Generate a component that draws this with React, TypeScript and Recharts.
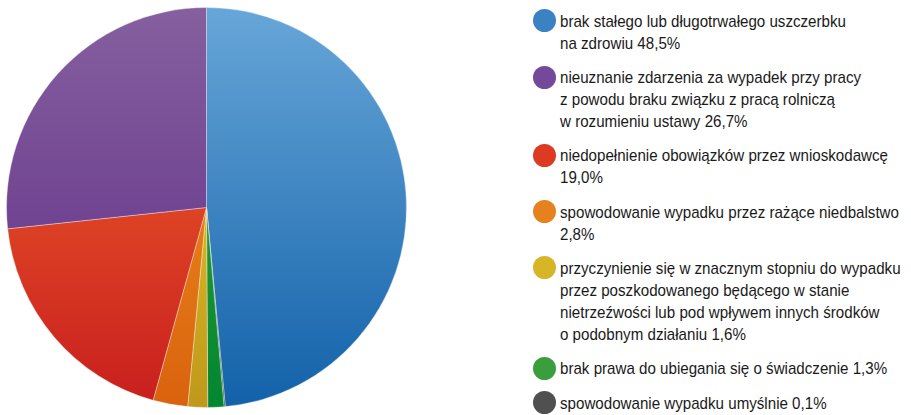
import { PieChart, Pie, Cell, Legend } from "recharts"

// pie order: clockwise from 12 o'clock
const sliceNames = [
  "brak stałego lub długotrwałego uszczerbku na zdrowiu",
  "spowodowanie wypadku umyślnie",
  "brak prawa do ubiegania się o świadczenie",
  "przyczynienie się w znacznym stopniu do wypadku przez poszkodowanego będącego w stanie nietrzeźwości lub pod wpływem innych środków o podobnym działaniu",
  "spowodowanie wypadku przez rażące niedbalstwo",
  "niedopełnienie obowiązków przez wnioskodawcę",
  "nieuznanie zdarzenia za wypadek przy pracy z powodu braku związku z pracą rolniczą w rozumieniu ustawy",
]
const sliceValues = [48.5, 0.1, 1.3, 1.6, 2.8, 19.0, 26.7]
const sliceTop = ["#67a6d8", "#555555", "#45a83a", "#f0d431", "#f09a22", "#f2682c", "#855f9f"]
const sliceBottom = ["#1261a9", "#3a3a3a", "#018630", "#bf981a", "#da620e", "#c81e1e", "#5f2c85"]

// legend, wrapped as in the original
const legendLines = [
  ["brak stałego lub długotrwałego uszczerbku", "na zdrowiu 48,5%"],
  ["nieuznanie zdarzenia za wypadek przy pracy", "z powodu braku związku z pracą rolniczą", "w rozumieniu ustawy 26,7%"],
  ["niedopełnienie obowiązków przez wnioskodawcę", "19,0%"],
  ["spowodowanie wypadku przez rażące niedbalstwo", "2,8%"],
  ["przyczynienie się w znacznym stopniu do wypadku", "przez poszkodowanego będącego w stanie", "nietrzeźwości lub pod wpływem innych środków", "o podobnym działaniu 1,6%"],
  ["brak prawa do ubiegania się o świadczenie 1,3%"],
  ["spowodowanie wypadku umyślnie 0,1%"],
]
const legendColors = ["#3a82c4", "#74489a", "#dc3a22", "#e6821e", "#d6b626", "#3a9e3c", "#505050"]

const data = sliceNames.map((name, i) => ({ name, value: sliceValues[i] }))

const font = "'Liberation Sans', Arial, sans-serif"
const squeeze = 0.89

function LegendBox() {
  return (
    <div style={{ fontFamily: font, fontSize: 17, color: "#1a1a1a", lineHeight: "22px" }}>
      {legendLines.map((lines, i) => (
        <div key={i} style={{ position: "relative", paddingLeft: 27, marginBottom: 12.3 }}>
          <span
            style={{
              position: "absolute",
              left: 0,
              top: -1.5,
              width: 23,
              height: 23,
              borderRadius: "50%",
              background: legendColors[i],
            }}
          />
          {lines.map((l, j) => (
            <div key={j} style={{ whiteSpace: "nowrap", height: 22 }}>
              <span style={{ display: "inline-block", transform: `scaleX(${squeeze})`, transformOrigin: "0 0" }}>{l}</span>
            </div>
          ))}
        </div>
      ))}
    </div>
  )
}

export default function App() {
  return (
    <div style={{ position: "absolute", left: 0, top: 0, width: 911, height: 415, background: "#fff" }}>
      <PieChart width={911} height={415} margin={{ top: 0, right: 0, bottom: 0, left: 0 }}>
        <defs>
          {sliceTop.map((c, i) => (
            <linearGradient key={i} id={`g${i}`} gradientUnits="userSpaceOnUse" x1="0" y1="8" x2="0" y2="408">
              <stop offset="0%" stopColor={c} />
              <stop offset="100%" stopColor={sliceBottom[i]} />
            </linearGradient>
          ))}
        </defs>
        <Pie
          data={data}
          dataKey="value"
          nameKey="name"
          cx={206.5}
          cy={207.5}
          outerRadius={200}
          startAngle={90}
          endAngle={-270}
          stroke="rgba(255,255,255,0.6)"
          strokeWidth={0.6}
          isAnimationActive={false}
        >
          {data.map((_, i) => (
            <Cell key={i} fill={`url(#g${i})`} />
          ))}
        </Pie>
        <Legend
          layout="vertical"
          verticalAlign="top"
          align="right"
          wrapperStyle={{ left: 533, top: 10.8, width: 378 }}
          content={() => <LegendBox />}
        />
      </PieChart>
    </div>
  )
}
